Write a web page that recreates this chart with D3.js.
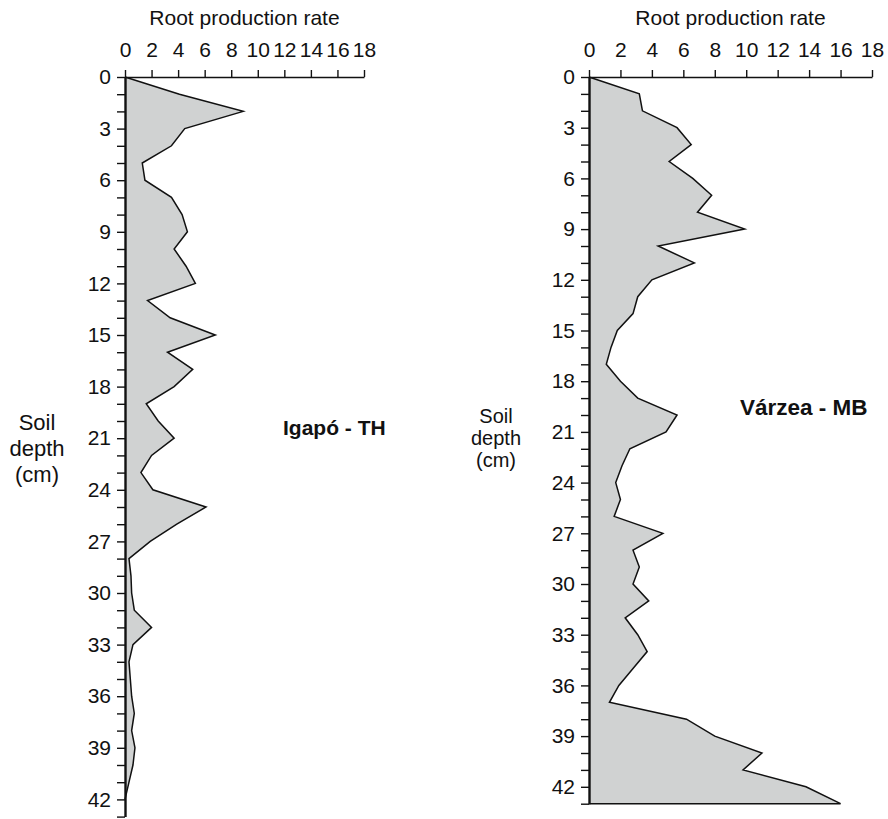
<!DOCTYPE html>
<html>
<head>
<meta charset="utf-8">
<script src="https://cdn.jsdelivr.net/npm/d3@7"></script>
<style>
  body { margin: 0; background: #fff; }
  svg { display: block; font-family: "Liberation Sans", Arial, Helvetica, sans-serif; }
</style>
</head>
<body>
<div id="chart"></div>
<script>
// soil depth (cm) for every sample, one per cm
var depthIgapo = d3.range(0, 43);
var depthVarzea = d3.range(0, 44);

// root production rate
var rateIgapo = [0, 4.1, 8.9, 4.5, 3.5, 1.3, 1.5, 3.5, 4.3, 4.7,
  3.7, 4.6, 5.3, 1.7, 3.4, 6.8, 3.2, 5.1, 3.7, 1.6,
  2.5, 3.7, 2.0, 1.2, 2.1, 6.1, 3.9, 1.9, 0.3, 0.45,
  0.5, 0.7, 2.0, 0.6, 0.3, 0.4, 0.5, 0.7, 0.5, 0.75,
  0.6, 0.3, 0];
var rateVarzea = [0, 3.2, 3.4, 5.6, 6.5, 5.1, 6.6, 7.8, 6.9, 9.9,
  4.4, 6.7, 4.0, 3.1, 2.8, 1.8, 1.4, 1.1, 2.0, 3.1,
  5.6, 4.9, 2.6, 2.1, 1.7, 2.0, 1.6, 4.7, 2.8, 3.2,
  2.8, 3.8, 2.3, 3.1, 3.7, 2.8, 1.9, 1.3, 6.2, 8.0,
  11.0, 9.8, 13.8, 16.0];

var xTicks = [0, 2, 4, 6, 8, 10, 12, 14, 16, 18];
var xTitle = "Root production rate";
var yTitle = ["Soil", "depth", "(cm)"];
var panelNames = ["Igapó - TH", "Várzea - MB"];

var svgWidth = 888, svgHeight = 819;
var fillGrey = "#d0d2d2";

var svg = d3.select("#chart")
  .append("svg")
  .attr("width", svgWidth)
  .attr("height", svgHeight);

// draws one depth profile
function drawPanel(opt) {
  var x = d3.scaleLinear().domain([0, 18]).range([opt.left, opt.right]);
  var y = d3.scaleLinear().domain([0, 43]).range([opt.top, opt.bottom]);
  var data = opt.depth.map(function (d, i) { return {depth: d, rate: opt.rate[i]}; });

  // filled area between axis and curve
  var area = d3.area()
    .y(function (d) { return y(d.depth); })
    .x0(x(0))
    .x1(function (d) { return x(d.rate); });
  svg.append("path")
    .datum(data)
    .attr("d", area)
    .attr("fill", fillGrey);

  // outline; close back to the axis at the last depth
  var last = data[data.length - 1];
  var outline = data.concat(last.rate > 0 ? [{depth: last.depth, rate: 0}] : []);
  var line = d3.line()
    .x(function (d) { return x(d.rate); })
    .y(function (d) { return y(d.depth); });
  svg.append("path")
    .datum(outline)
    .attr("d", line)
    .attr("fill", "none")
    .attr("stroke", "#111")
    .attr("stroke-width", 1.5)
    .attr("stroke-linejoin", "miter");

  // x axis on top
  var xAxis = svg.append("g")
    .attr("transform", "translate(0," + opt.top + ")")
    .call(d3.axisTop(x).tickValues(xTicks).tickSize(7).tickSizeOuter(0).tickPadding(13));
  xAxis.selectAll("text").attr("font-size", 21).attr("fill", "#111").attr("font-family", null);
  xAxis.select(".domain").attr("stroke-width", 1.6).attr("stroke", "#111");
  xAxis.selectAll(".tick line").attr("stroke-width", 1.4).attr("stroke", "#111");

  // y axis, tick each cm, label every 3
  var yAxis = svg.append("g")
    .attr("transform", "translate(" + opt.left + ",0)")
    .call(d3.axisLeft(y).tickValues(d3.range(0, 44)).tickSize(8).tickSizeOuter(0).tickPadding(6)
      .tickFormat(function (d) { return (d % 3 === 0 && d <= 42) ? d : ""; }));
  yAxis.selectAll("text").attr("font-size", 21).attr("fill", "#111").attr("font-family", null);
  yAxis.select(".domain").attr("stroke-width", 2.4).attr("stroke", "#111");
  yAxis.selectAll(".tick line").attr("stroke-width", 1.4).attr("stroke", "#111");

  svg.append("text")
    .attr("x", (opt.left + opt.right) / 2)
    .attr("y", 25)
    .attr("text-anchor", "middle")
    .attr("font-size", 21)
    .attr("fill", "#111")
    .text(xTitle);

  var yt = svg.append("text")
    .attr("text-anchor", "middle")
    .attr("font-size", opt.ySize)
    .attr("fill", "#111");
  yTitle.forEach(function (t, i) {
    yt.append("tspan")
      .attr("x", opt.yx)
      .attr("y", opt.yy + i * opt.yStep)
      .text(t);
  });

  svg.append("text")
    .attr("x", opt.nameX)
    .attr("y", opt.nameY)
    .attr("font-size", opt.nameSize)
    .attr("font-weight", "bold")
    .attr("fill", "#111")
    .text(opt.name);
}

drawPanel({depth: depthIgapo, rate: rateIgapo, left: 125, right: 364, top: 77, bottom: 816.6,
  yx: 37, yy: 430, yStep: 26, ySize: 22, name: panelNames[0], nameX: 283, nameY: 435, nameSize: 21});
drawPanel({depth: depthVarzea, rate: rateVarzea, left: 589, right: 872, top: 77, bottom: 803.7,
  yx: 496, yy: 423, yStep: 22, ySize: 20, name: panelNames[1], nameX: 740, nameY: 415, nameSize: 22.5});
</script>
</body>
</html>
